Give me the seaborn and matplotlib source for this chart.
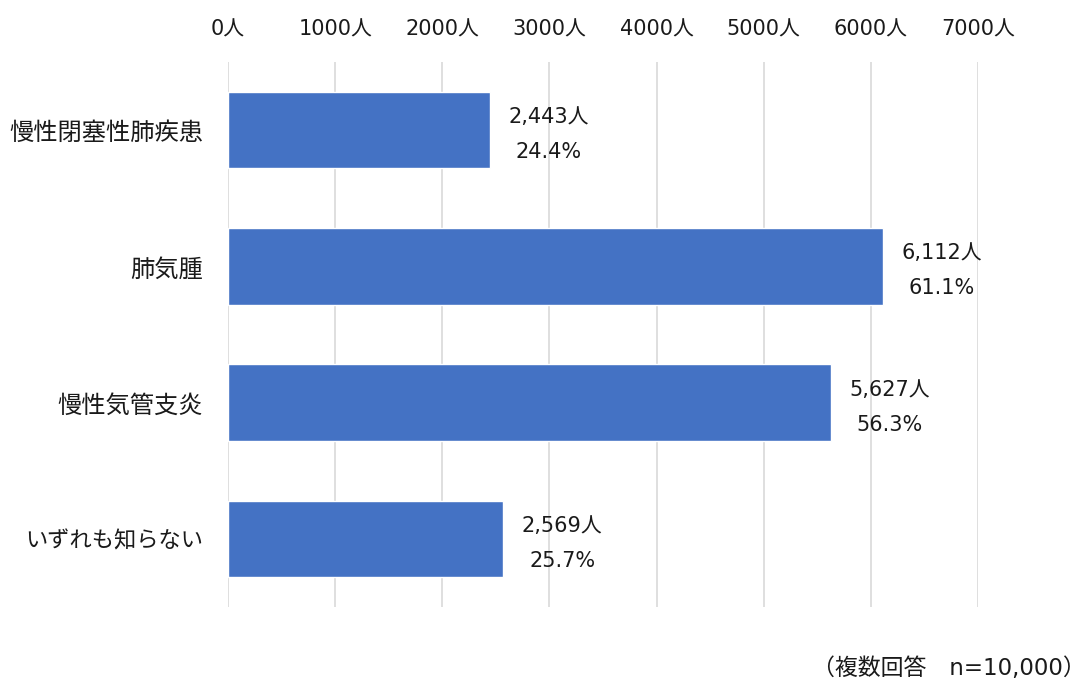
import matplotlib
matplotlib.use("Agg")
import matplotlib.pyplot as plt
import seaborn as sns
import pandas as pd

categories = ["慢性閉塞性肺疾患", "肺気腫", "慢性気管支炎", "いずれも知らない"]
counts = [2443, 6112, 5627, 2569]
percents = [24.4, 61.1, 56.3, 25.7]
xticks = [0, 1000, 2000, 3000, 4000, 5000, 6000, 7000]
xtick_labels = [f"{v}人" for v in xticks]
footnote = "（複数回答　n=10,000）"

sns.set_theme(style="white")
MIX = ['DejaVu Sans', 'Noto Sans CJK JP']
CJK = ['Noto Sans CJK JP', 'DejaVu Sans']
plt.rcParams['font.family'] = MIX
TXT = "#1a1a1a"

df = pd.DataFrame({"category": categories, "count": counts})

fig = plt.figure(figsize=(10.84, 6.84), dpi=100)
ax = fig.add_axes([228/1084, 1 - 607/684, (978-228)/1084, (607-62)/684])

sns.barplot(data=df, y="category", x="count", color="#4472C4", saturation=1,
            width=0.56, ax=ax, orient="h", zorder=3)

ax.set_xlim(0, 7000)
ax.set_ylim(3.5, -0.5)
ax.set_xticks(xticks)
ax.set_xticklabels(xtick_labels, family=MIX, fontsize=15, color=TXT)
ax.xaxis.tick_top()
ax.tick_params(axis='x', length=0, pad=16)
ax.set_yticks(range(len(categories)))
ylabels = ax.set_yticklabels(categories, family=CJK, fontsize=17.5, color=TXT)
ylabels[-1].set_fontsize(16)  # kana are set proportionally (narrower) in the reference
ax.tick_params(axis='y', length=0, pad=18)
ax.set_xlabel("")
ax.set_ylabel("")
ax.grid(axis='x', color="#d9d9d9", linewidth=1.2, zorder=0)
ax.grid(axis='y', visible=False)
for s in ax.spines.values():
    s.set_visible(False)

for i, (c, p) in enumerate(zip(counts, percents)):
    ax.annotate(f"{c:,}人", (c, i), xytext=(59, 13), textcoords="offset pixels",
                ha="center", va="center", fontsize=15, color=TXT, family=MIX)
    ax.annotate(f"{p:.1f}%", (c, i), xytext=(59, -22), textcoords="offset pixels",
                ha="center", va="center", fontsize=15, color=TXT, family=MIX)

fig.text(1086/1084, 1 - 668/684, footnote, ha="right", va="center",
         fontsize=16.5, color=TXT, family=MIX)

fig.savefig("out.png", dpi=100)
